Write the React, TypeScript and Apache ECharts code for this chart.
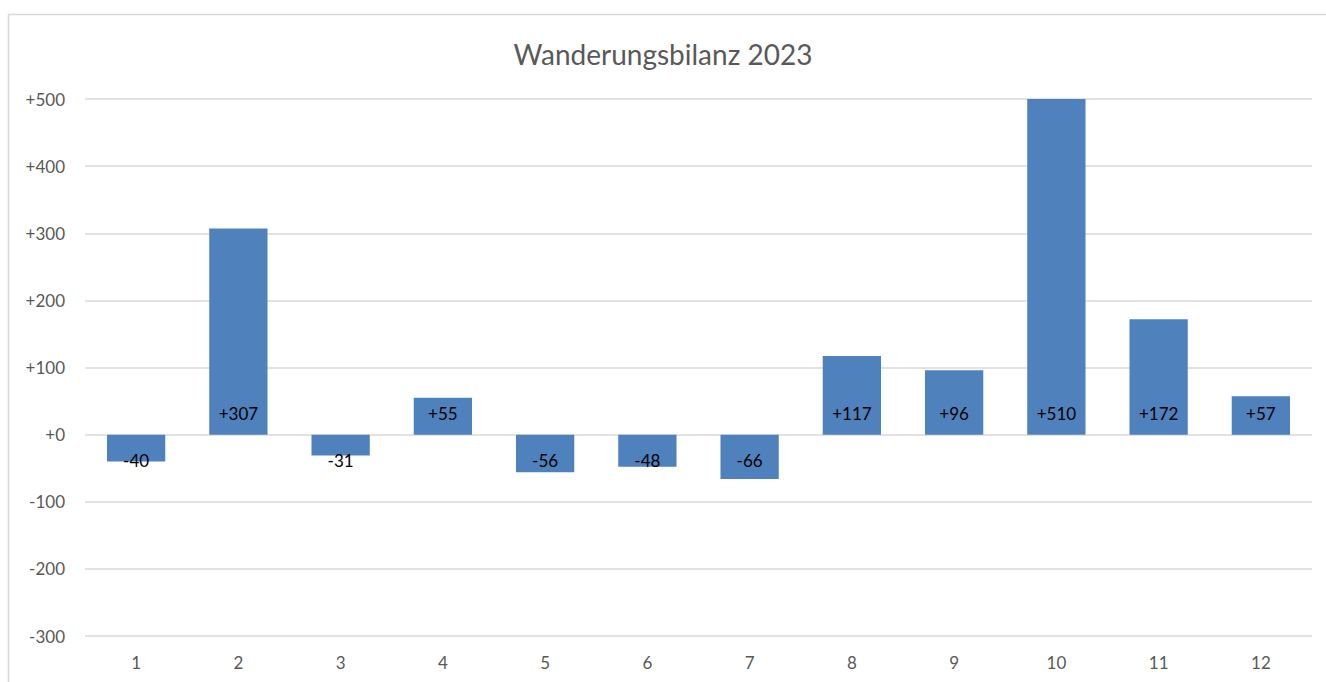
import React, { useEffect, useRef } from "react";
import * as echarts from "echarts";

const categories = ["1", "2", "3", "4", "5", "6", "7", "8", "9", "10", "11", "12"];
const values = [-40, 307, -31, 55, -56, -48, -66, 117, 96, 510, 172, 57];
const titleText = "Wanderungsbilanz 2023";

const fmt = (v: number) => (v >= 0 ? "+" + v : String(v));

export default function App() {
  const ref = useRef<HTMLDivElement>(null);
  useEffect(() => {
    if (!ref.current) return;
    const chart = echarts.init(ref.current, null, { renderer: "svg" });
    const font = "Lato, 'Open Sans', sans-serif";
    chart.setOption({
      animation: false,
      backgroundColor: "#ffffff",
      textStyle: { fontFamily: font },
      title: {
        text: titleText,
        left: "center",
        top: 35,
        textStyle: { fontFamily: font, fontSize: 28, fontWeight: "normal", color: "#595959" },
      },
      graphic: [
        {
          type: "rect",
          shape: { x: 8.5, y: 14.5, width: 1340, height: 700 },
          style: { fill: "none", stroke: "#d9d9d9", lineWidth: 1.5 },
          silent: true,
        },
      ],
      grid: { left: 85, right: 14, top: 99, bottom: 46, containLabel: false },
      xAxis: {
        type: "category",
        data: categories,
        axisLine: { show: false, onZero: false },
        axisTick: { show: false },
        axisLabel: { color: "#595959", fontSize: 17, margin: 18, fontFamily: font },
        splitLine: { show: false },
      },
      yAxis: {
        type: "value",
        min: -300,
        max: 500,
        interval: 100,
        axisLine: { show: false },
        axisTick: { show: false },
        axisLabel: { color: "#595959", fontSize: 17, margin: 20, fontFamily: font, formatter: (v: number) => fmt(v) },
        splitLine: { lineStyle: { color: "#d9d9d9", width: 1.5 } },
      },
      series: [
        {
          type: "bar",
          clip: true,
          barCategoryGap: "43%",
          itemStyle: { color: "#4f81bd" },
          data: values.map((v) => ({
            value: v,
            label: {
              show: true,
              position: v >= 0 ? "insideBottom" : "insideTop",
              distance: v >= 0 ? 13 : 17,
              color: "#000000",
              fontSize: 17,
              fontFamily: font,
              formatter: () => fmt(v),
            },
          })),
        },
      ],
    });
    return () => chart.dispose();
  }, []);
  return (
    <div
      ref={ref}
      style={{ position: "fixed", left: 0, top: 0, width: 1326, height: 682 }}
    />
  );
}
